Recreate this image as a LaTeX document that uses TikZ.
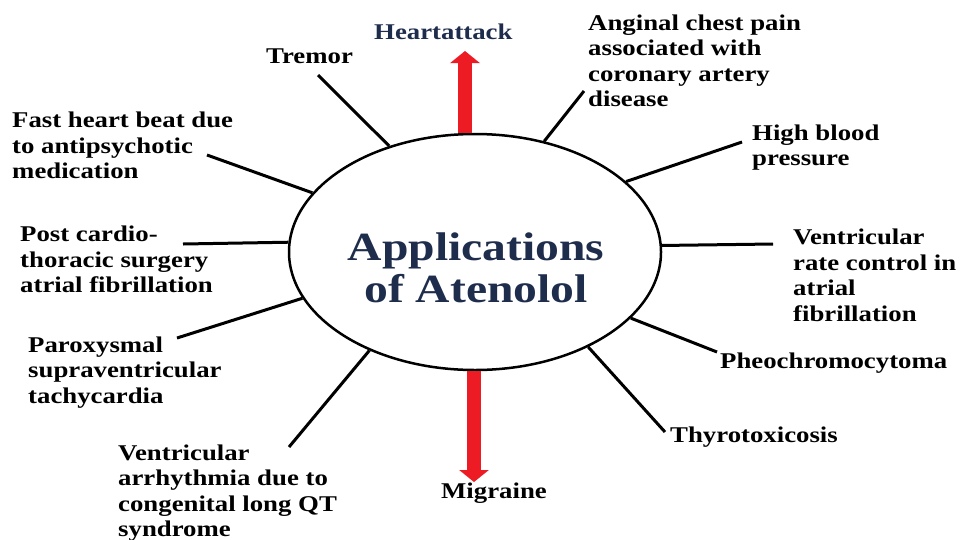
\documentclass[tikz,border=0pt]{standalone}
\usepackage{fontspec}
\setmainfont{Liberation Serif}[FakeStretch=1.19]
\usetikzlibrary{shapes.geometric,arrows.meta}
\definecolor{navy}{HTML}{1F2D4D}
\definecolor{arrowred}{HTML}{ED1C24}

\begin{document}
\begin{tikzpicture}[x=1pt, y=-1pt,
	label/.style={anchor=base west, align=left, inner sep=0pt, font=\fontsize{22.5}{25.5}\selectfont\bfseries},
	spoke/.style={line width=3pt},
	bigarrow/.style={arrowred, line width=14pt, -{Triangle[width=29pt, length=12pt]}}]
	\useasboundingbox (0, 0) rectangle (960, 539);

	% centre (multi-line nodes sit on the baseline of their last line)
	\node [ellipse, draw, line width=2.5pt, minimum width=372pt, minimum height=236pt] (app) at (475, 252) {};
	\node [anchor=base, align=center, inner sep=0pt, text=navy, font=\fontsize{40}{42.5}\selectfont\bfseries] (title) at (476, 302.5) {Applications\\of Atenolol};

	% labels
	\node [label] (tremor) at (266, 63) {Tremor};
	\node [label] (angina) at (588, 106.5) {Anginal chest pain\\associated with\\coronary artery\\disease};
	\node [label] (hbp) at (752, 165.5) {High blood\\pressure};
	\node [label] (ratectl) at (793, 321) {Ventricular\\rate control in\\atrial\\fibrillation};
	\node [label] (pheo) at (720, 368) {Pheochromocytoma};
	\node [label] (thyro) at (670, 442) {Thyrotoxicosis};
	\node [label] (arrhythmia) at (118, 536.5) {Ventricular\\arrhythmia due to\\congenital long QT\\syndrome};
	\node [label] (psvt) at (28, 403) {Paroxysmal\\supraventricular\\tachycardia};
	\node [label] (postcardio) at (20, 292.5) {Post cardio-\\thoracic surgery\\atrial fibrillation};
	\node [label] (fastbeat) at (12, 178.5) {Fast heart beat due\\to antipsychotic\\medication};
	\node [label, text=navy] (heartattack) at (374, 39) {Heartattack};
	\node [label, anchor=base] (migraine) at (494, 498) {Migraine};

	% free ends of the spokes
	\coordinate (tremorend) at (318, 75);
	\coordinate (anginaend) at (584, 91);
	\coordinate (hbpend) at (742, 142);
	\coordinate (ratectlend) at (773, 244);
	\coordinate (pheoend) at (717, 352);
	\coordinate (thyroend) at (665, 432);
	\coordinate (arrhythmiaend) at (289, 447);
	\coordinate (psvtend) at (177, 338);
	\coordinate (postcardioend) at (183, 244);
	\coordinate (fastbeatend) at (207, 155);
	\coordinate (uptip) at (465, 51);
	\coordinate (downtip) at (474, 482);

	\foreach \a/\e in {129/tremorend, 58/anginaend, 25/hbpend, 2.5/ratectlend, -23/pheoend,
		-40/thyroend, 223/arrhythmiaend, 195.5/psvtend, 177.5/postcardioend, 160.7/fastbeatend}
		\draw [spoke] (app.\a) -- (\e);

	\draw [bigarrow] (app.north -| uptip) -- (uptip);
	\draw [bigarrow] (app.south -| downtip) -- (downtip);
\end{tikzpicture}
\end{document}
